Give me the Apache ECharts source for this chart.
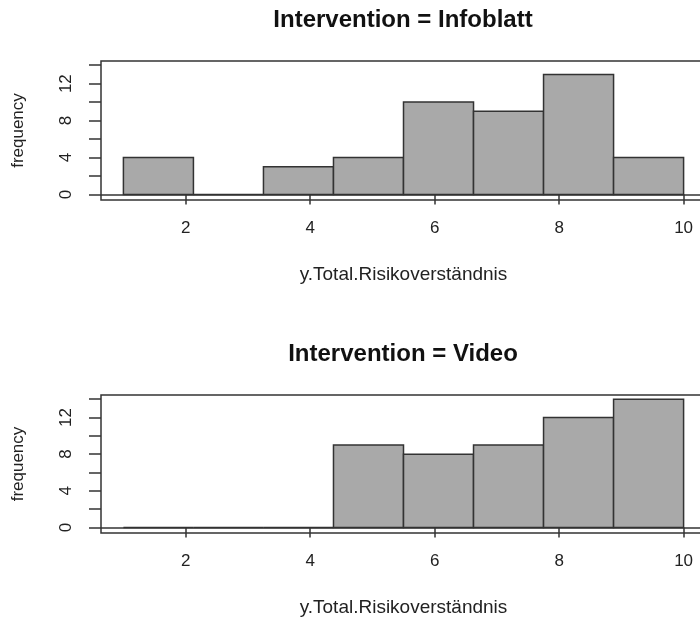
<!DOCTYPE html>
<html>
<head>
<meta charset="utf-8">
<script src="https://cdn.jsdelivr.net/npm/echarts@6/dist/echarts.min.js"></script>
<style>
  html, body { margin: 0; padding: 0; background: #fff; overflow: hidden; }
  /* plot region runs past the right edge of the window, like the original */
  #chart { width: 712px; height: 618px; }
</style>
</head>
<body>
<div id="chart"></div>
<script>
// histogram breaks (shared by both panels)
var breaks = [1, 2.125, 3.25, 4.375, 5.5, 6.625, 7.75, 8.875, 10];
var infoblattCounts = [4, 0, 3, 4, 10, 9, 13, 4];
var videoCounts = [0, 0, 0, 9, 8, 9, 12, 14];
var panelTitles = ['Intervention = Infoblatt', 'Intervention = Video'];
var xName = 'y.Total.Risikoverständnis';
var yName = 'frequency';
var xTicks = [2, 4, 6, 8, 10];
var yTicks = [0, 2, 4, 6, 8, 10, 12, 14];
var yLabels = [0, 4, 8, 12];

var ink = '#333';
var font = 'Liberation Sans, Arial, sans-serif';

function toBins(counts) {
  var out = [];
  for (var i = 0; i < counts.length; i++) {
    out.push([breaks[i], breaks[i + 1], counts[i]]);
  }
  return out;
}

function renderBar(params, api) {
  var p0 = api.coord([api.value(0), api.value(2)]);
  var p1 = api.coord([api.value(1), 0]);
  return {
    type: 'rect',
    shape: { x: p0[0], y: p0[1], width: p1[0] - p0[0], height: p1[1] - p0[1] },
    style: { fill: '#A9A9A9', stroke: ink, lineWidth: 1.5 }
  };
}

var tops = [61, 395];
var grids = [], xAxes = [], yAxes = [], series = [], titles = [];

[infoblattCounts, videoCounts].forEach(function (counts, i) {
  grids.push({
    left: 101, top: tops[i], width: 605, height: 139,
    show: true, borderColor: ink, borderWidth: 1.5, backgroundColor: 'transparent'
  });
  titles.push({
    text: panelTitles[i], left: 398, top: tops[i] - 58, textAlign: 'center',
    textStyle: { fontFamily: font, fontSize: 24, fontWeight: 'bold', color: '#111' }
  });
  xAxes.push({
    type: 'value', gridIndex: i, min: 0.64, max: 10.36,
    name: xName, nameLocation: 'middle', nameGap: 65,
    nameTextStyle: { fontFamily: font, fontSize: 19, color: '#222' },
    axisLine: { show: false },
    axisTick: { show: true, length: 10, lineStyle: { color: ink, width: 1.5 }, customValues: xTicks },
    axisLabel: { margin: 20, fontFamily: font, fontSize: 17, color: '#222', customValues: xTicks },
    splitLine: { show: false }
  });
  yAxes.push({
    type: 'value', gridIndex: i, min: -0.6, max: 14.45,
    name: yName, nameLocation: 'middle', nameGap: 74, nameRotate: 90,
    nameTextStyle: { fontFamily: font, fontSize: 17, color: '#222' },
    axisLine: { show: false },
    axisTick: { show: true, length: 12, lineStyle: { color: ink, width: 1.5 }, customValues: yTicks },
    axisLabel: { margin: 26, rotate: 90, fontFamily: font, fontSize: 17, color: '#222', customValues: yLabels },
    splitLine: { show: false }
  });
  series.push({
    type: 'custom',
    xAxisIndex: i, yAxisIndex: i,
    renderItem: renderBar,
    encode: { x: [0, 1], y: 2 },
    data: toBins(counts),
    silent: true,
    markLine: {
      silent: true, symbol: ['none', 'none'], label: { show: false },
      lineStyle: { color: ink, width: 1.5, type: 'solid' },
      data: [{ yAxis: 0 }]
    }
  });
});

var chart = echarts.init(document.getElementById('chart'));
chart.setOption({
  animation: false,
  backgroundColor: '#fff',
  title: titles,
  grid: grids,
  xAxis: xAxes,
  yAxis: yAxes,
  series: series
});
</script>
</body>
</html>
